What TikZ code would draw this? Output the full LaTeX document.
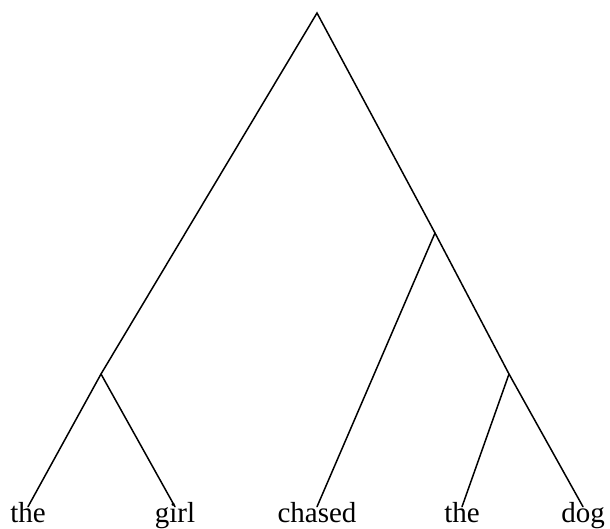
\documentclass[tikz,border=0pt]{standalone}
\usepackage{fontspec}
\setmainfont{Liberation Serif}
\usetikzlibrary{positioning}

\begin{document}
\begin{tikzpicture}[x=1pt, y=-1pt, line width=1.5pt]
  \tikzset{
    word/.style={anchor=base, inner sep=7.5pt,
      text height=0.7em, text depth=0.2em,
      font=\fontsize{29}{31}\selectfont},
    branch/.style={draw, black, line cap=round},
  }
  \useasboundingbox (0,0) rectangle (610,528);
  % Leaves
  \node[word] (the1)   at (28,522)  {the};
  \node[word] (girl)   at (175,522) {girl};
  \node[word] (chased) at (317,522) {chased};
  \node[word] (the2)   at (462,522) {the};
  \node[word] (dog)    at (583,522) {dog};
  % Inner points
  \coordinate (root) at (317,13);
  \coordinate (np1)  at (101,374);
  \coordinate (vp)   at (435,233);
  \coordinate (np2)  at (509,374);
  % Branches
  \path[branch] (the1.north) -- (np1) -- (root) -- (vp) -- (np2) -- (dog.north);
  \path[branch] (np1) -- (girl.north);
  \path[branch] (vp) -- (chased.north);
  \path[branch] (np2) -- (the2.north);
\end{tikzpicture}
\end{document}
